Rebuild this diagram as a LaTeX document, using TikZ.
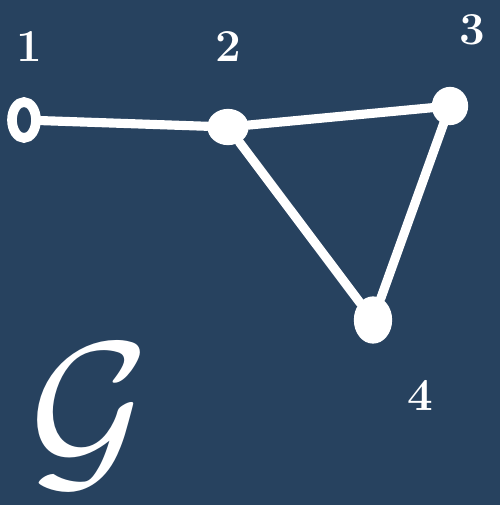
\documentclass[tikz,border=0pt]{standalone}
\usepackage{graphicx}
\usetikzlibrary{shapes.geometric}
\definecolor{bg}{HTML}{27425F}
\begin{document}
\begin{tikzpicture}[x=0.02cm,y=-0.02cm,
  vert/.style={ellipse,draw=white,fill=white,line width=3pt,inner sep=0pt},
  edge/.style={white,line width=5.2pt,line cap=round},
  lbl/.style={text=white,font=\bfseries\fontsize{26}{26}\selectfont}]
\fill[bg] (0,0) rectangle (500,505);
\useasboundingbox (0,0) rectangle (500,505);
\node[vert,minimum width=0.48cm,minimum height=0.72cm,fill=bg,line width=5.5pt] (n1) at (24,120) {};
\node[vert,minimum width=0.72cm,minimum height=0.62cm] (n2) at (228,127) {};
\node[vert,minimum width=0.62cm,minimum height=0.66cm] (n3) at (450,106) {};
\node[vert,minimum width=0.66cm,minimum height=0.84cm] (n4) at (373,320) {};
\draw[edge] (n1) -- (n2);
\draw[edge] (n2) -- (n3);
\draw[edge] (n2) -- (n4);
\draw[edge] (n3) -- (n4);
\node[lbl] (l1) at (29,47) {1};
\node[lbl] (l2) at (228,47) {2};
\node[lbl] (l3) at (472,30) {3};
\node[lbl] (l4) at (420,395) {4};
\node[text=white] (g) at (90,416) {\scalebox{10.5}{$\mathcal{G}$}};
\end{tikzpicture}
\end{document}
